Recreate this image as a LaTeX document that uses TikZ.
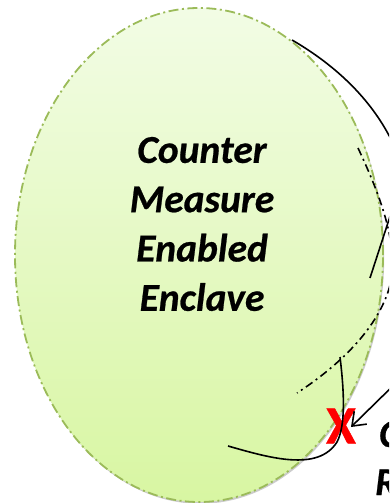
\documentclass[tikz,border=0pt]{standalone}
\usepackage{fontspec}
\setmainfont{Carlito}
\usetikzlibrary{arrows.meta,shapes.geometric,shadows}
\definecolor{encfillA}{HTML}{F2FCE5}
\definecolor{encfillB}{HTML}{D8F6A2}
\definecolor{encline}{HTML}{9BBB59}
\definecolor{xred}{HTML}{FF0000}
\tikzset{
  enclave/.style={ellipse, draw=encline, line width=1.8bp,
    dash pattern=on 10bp off 3.5bp on 2bp off 3.5bp,
    top color=encfillA, bottom color=encfillB,
    minimum width=368bp, minimum height=494bp, inner sep=0pt,
    drop shadow={shadow xshift=1.2bp, shadow yshift=-1.8bp, opacity=0.2, fill=black}},
  bigtext/.style={font=\fontsize{39.5bp}{49.3bp}\selectfont\bfseries\itshape\addfontfeature{FakeBold=0.6}, align=center, inner sep=0pt},
  conn/.style={draw=black, line width=1.6bp},
  dashdotline/.style={draw=black, line width=1.6bp, dash pattern=on 8bp off 4bp on 2bp off 4bp},
  xmarkstyle/.style={font=\fontsize{54bp}{54bp}\selectfont\bfseries\addfontfeature{FakeBold=0.8}, text=xred, inner sep=0pt},
}
\begin{document}
\begin{tikzpicture}[x=1bp,y=-1bp]
\clip (0,0) rectangle (389,503);
\node[enclave] (encl) at (199,255) {};
\node[bigtext] (label) at (202,224) {Counter\\Measure\\Enabled\\Enclave};
% cut-off text at right
\node[bigtext, anchor=base west] (cutA) at (379,447) {C};
\node[bigtext, anchor=base west] (cutB) at (375,495) {R};
% red X
\node[xmarkstyle] (xmark) at (341,426) {X};
% coordinates
\coordinate (c1s) at (292,40);
\coordinate (c1e) at (400,160);
\coordinate (ddA) at (358,148);
\coordinate (ddB) at (388,292);
\coordinate (ddC) at (297,393);
\coordinate (slS) at (396,198);
\coordinate (slE) at (370,278);
\coordinate (crS) at (228,446);
\coordinate (crE) at (340,357);
\coordinate (arS) at (402,377);
\coordinate (arT) at (351,427);
% top curve
\draw[conn] (c1s) .. controls (330,62) and (378,100) .. (c1e);
% dash-dot outline of outer shape
\draw[dashdotline] (ddA) .. controls (380,195) and (402,250) .. (ddB) .. controls (375,330) and (340,365) .. (ddC);
% short straight line
\draw[conn] (slS) -- (slE);
% curve through the X
\draw[conn] (crS) .. controls (270,458) and (318,472) .. (337,442) .. controls (346,425) and (344,390) .. (crE);
% arrow to X
\draw[conn, -{Straight Barb[length=12bp,width=18bp]}] (arS) -- (arT);
\end{tikzpicture}
\end{document}
